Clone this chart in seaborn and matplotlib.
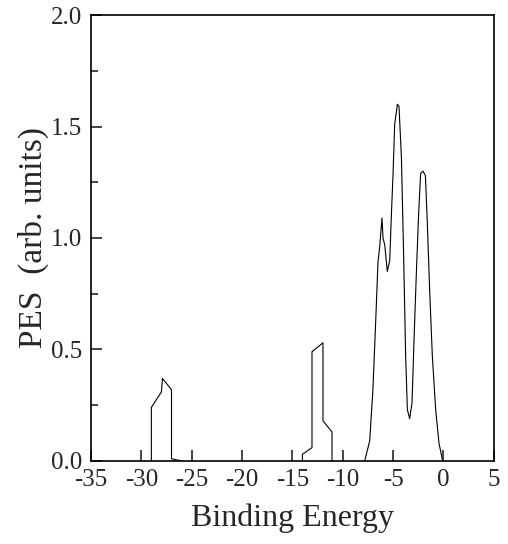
import matplotlib
matplotlib.use("Agg")
import matplotlib.pyplot as plt
import seaborn as sns
import pandas as pd
from matplotlib.ticker import MultipleLocator

# Band 1 (around -28 eV)
energy_1 = [-29.0, -29.0, -28.0, -27.9, -27.0, -27.0, -26.0]
pes_1 = [0.0, 0.24, 0.31, 0.37, 0.32, 0.01, 0.0]

# Band 2 (around -12 eV)
energy_2 = [-14.0, -14.0, -13.05, -13.05, -11.96, -11.96, -11.06, -11.06]
pes_2 = [0.0, 0.03, 0.06, 0.49, 0.53, 0.18, 0.13, 0.0]

# Valence band (-8 to 0 eV)
energy_3 = [-7.82, -7.32, -7.0, -6.73, -6.5, -6.33, -6.1, -6.0, -5.83, -5.57,
            -5.33, -5.17, -5.0, -4.84, -4.57, -4.41, -4.17, -3.95, -3.75, -3.58,
            -3.35, -3.12, -2.92, -2.69, -2.46, -2.26, -2.03, -1.79, -1.6, -1.37,
            -1.1, -0.77, -0.44, -0.1, 0.0]
pes_3 = [0.0, 0.09, 0.32, 0.62, 0.89, 0.96, 1.09, 1.0, 0.97, 0.85,
         0.9, 1.1, 1.29, 1.51, 1.6, 1.59, 1.36, 0.92, 0.47, 0.23,
         0.19, 0.26, 0.54, 0.84, 1.11, 1.29, 1.3, 1.28, 1.07, 0.77,
         0.47, 0.23, 0.08, 0.005, 0.0]

x_ticks = [-35, -30, -25, -20, -15, -10, -5, 0, 5]
y_ticks = [0.0, 0.5, 1.0, 1.5, 2.0]

df = pd.concat([
    pd.DataFrame({"E": energy_1, "PES": pes_1, "seg": 1}),
    pd.DataFrame({"E": energy_2, "PES": pes_2, "seg": 2}),
    pd.DataFrame({"E": energy_3, "PES": pes_3, "seg": 3}),
], ignore_index=True)

sns.set_style("ticks")
plt.rcParams["font.family"] = ["Liberation Serif", "DejaVu Serif"]

fig = plt.figure(figsize=(5.08, 5.44), dpi=100)
ax = fig.add_axes([0.179, 0.1526, 0.793, 0.8198])

sns.lineplot(data=df, x="E", y="PES", units="seg", estimator=None, sort=False,
             color="black", linewidth=0.8, ax=ax, legend=False)

ax.set_xlim(-35, 5)
ax.set_ylim(0, 2.0)
ax.set_xticks(x_ticks)
ax.set_xticklabels([str(t) for t in x_ticks])
ax.set_yticks(y_ticks)
ax.set_yticklabels([f"{t:.1f}" for t in y_ticks])
ax.yaxis.set_minor_locator(MultipleLocator(0.25))

ax.tick_params(axis="both", which="major", direction="in", length=8, width=1.2,
               labelsize=18, top=False, right=False)
ax.tick_params(axis="y", which="minor", direction="in", length=5, width=1.2, right=False)
ax.tick_params(axis="x", which="major", pad=6)
ax.tick_params(axis="y", which="major", pad=6)

for s in ax.spines.values():
    s.set_linewidth(1.2)
    s.set_color("black")

ax.set_xlabel("Binding Energy", fontsize=23, labelpad=9)
ax.set_ylabel("PES  (arb. units)", fontsize=24, labelpad=2)

fig.savefig("out.png", dpi=100)
